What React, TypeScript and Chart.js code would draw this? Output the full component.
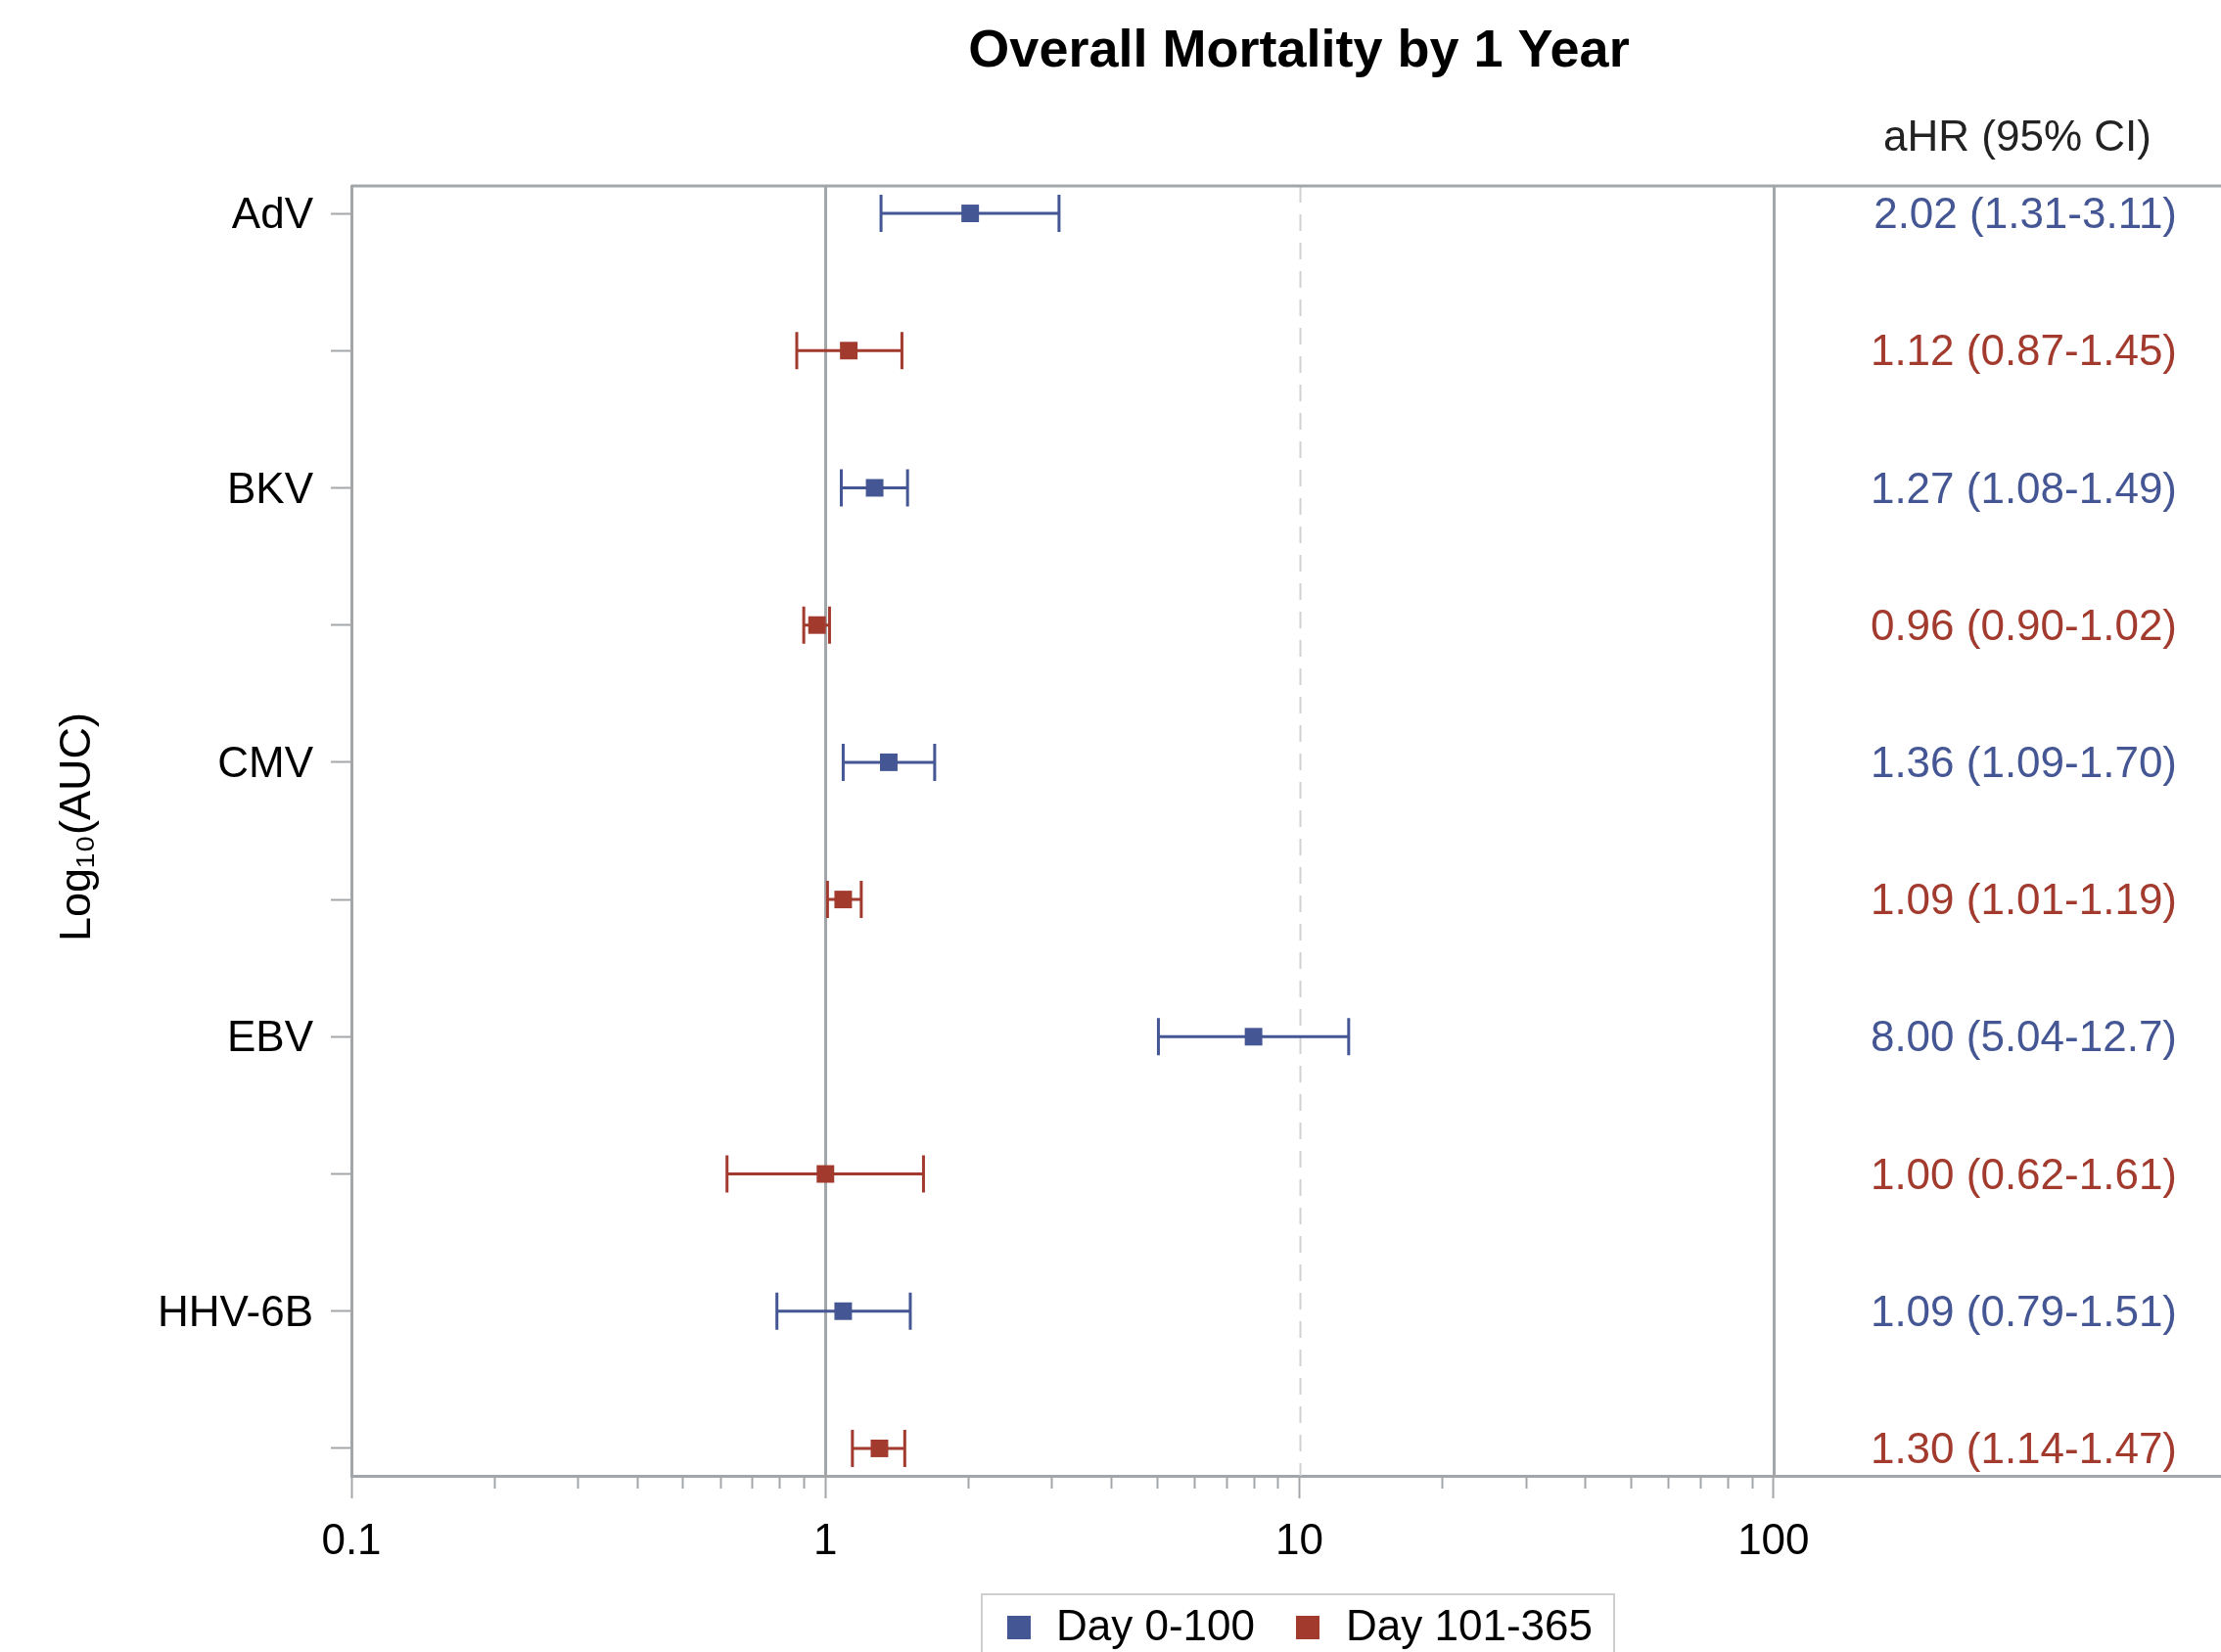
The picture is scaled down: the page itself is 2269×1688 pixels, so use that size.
import React, { useEffect, useRef } from "react";
import { Chart, registerables } from "chart.js";

Chart.register(...registerables);

// ---------------- data ----------------
const viruses = ["AdV", "BKV", "CMV", "EBV", "HHV-6B"];
const seriesNames = ["Day 0-100", "Day 101-365"];
const earlyHR = [2.02, 1.27, 1.36, 8.0, 1.09];
const earlyLo = [1.31, 1.08, 1.09, 5.04, 0.79];
const earlyHi = [3.11, 1.49, 1.7, 12.7, 1.51];
const lateHR = [1.12, 0.96, 1.09, 1.0, 1.3];
const lateLo = [0.87, 0.9, 1.01, 0.62, 1.14];
const lateHi = [1.45, 1.02, 1.19, 1.61, 1.47];
const xTickLabels = [0.1, 1, 10, 100];
const refLinesSolid = [1, 100];
const refLinesDashed = [10];

// ---------------- styles ----------------
const W = 2269;
const H = 1688;
const FONT = "'Liberation Sans', Arial, sans-serif";
const BLUE = "#445694";
const RED = "#A23A2E";
const AXIS_GRAY = "#a3a6a9";
const DASH_GRAY = "#cfd1d3";

const fmt = (v: number) => (v >= 10 ? v.toFixed(1) : v.toFixed(2));

const series = [
  { name: seriesNames[0], hr: earlyHR, lo: earlyLo, hi: earlyHi, color: BLUE, offset: 0 },
  { name: seriesNames[1], hr: lateHR, lo: lateLo, hi: lateHi, color: RED, offset: 1 },
];

const isMajor = (v: number) => {
  const l = Math.log10(v);
  return Math.abs(l - Math.round(l)) < 1e-9;
};

function buildLogTicks() {
  const t: number[] = [];
  const first = Math.log10(xTickLabels[0]);
  const last = Math.log10(xTickLabels[xTickLabels.length - 1]);
  for (let e = first; e < last; e++) {
    const d = Math.pow(10, e);
    for (let k = 1; k <= 9; k++) t.push(parseFloat((k * d).toPrecision(6)));
  }
  t.push(xTickLabels[xTickLabels.length - 1]);
  return t;
}

const forestPlugin = {
  id: "forest",
  beforeDatasetsDraw(chart: any) {
    const { ctx, chartArea, scales } = chart;
    const x = scales.x;
    const y = scales.y;
    ctx.save();
    // reference lines
    refLinesSolid.forEach((v) => {
      const px = Math.round(x.getPixelForValue(v)) + 0.5;
      ctx.strokeStyle = AXIS_GRAY;
      ctx.lineWidth = 3;
      ctx.setLineDash([]);
      ctx.beginPath();
      ctx.moveTo(px, chartArea.top);
      ctx.lineTo(px, chartArea.bottom);
      ctx.stroke();
    });
    refLinesDashed.forEach((v) => {
      const px = Math.round(x.getPixelForValue(v)) + 0.5;
      ctx.strokeStyle = DASH_GRAY;
      ctx.lineWidth = 2;
      ctx.setLineDash([17, 12]);
      ctx.beginPath();
      ctx.moveTo(px, chartArea.top);
      ctx.lineTo(px, chartArea.bottom);
      ctx.stroke();
    });
    ctx.setLineDash([]);
    // top frame line
    ctx.strokeStyle = AXIS_GRAY;
    ctx.lineWidth = 3;
    ctx.beginPath();
    ctx.moveTo(chartArea.left, chartArea.top);
    ctx.lineTo(chartArea.right, chartArea.top);
    ctx.stroke();
    // minor x ticks
    ctx.lineWidth = 2;
    x.ticks.forEach((t: any) => {
      if (isMajor(t.value)) return;
      const px = Math.round(x.getPixelForValue(t.value)) + 0.5;
      ctx.beginPath();
      ctx.moveTo(px, chartArea.bottom);
      ctx.lineTo(px, chartArea.bottom + 13);
      ctx.stroke();
    });
    // error bars
    series.forEach((s) => {
      ctx.strokeStyle = s.color;
      ctx.lineWidth = 3;
      s.hr.forEach((_, i) => {
        const py = y.getPixelForValue(2 * i + s.offset);
        const x1 = x.getPixelForValue(s.lo[i]);
        const x2 = x.getPixelForValue(s.hi[i]);
        ctx.beginPath();
        ctx.moveTo(x1, py);
        ctx.lineTo(x2, py);
        ctx.moveTo(x1, py - 19);
        ctx.lineTo(x1, py + 19);
        ctx.moveTo(x2, py - 19);
        ctx.lineTo(x2, py + 19);
        ctx.stroke();
      });
    });
    ctx.restore();
  },
  afterDraw(chart: any) {
    const { ctx, chartArea, scales } = chart;
    const y = scales.y;
    ctx.save();
    // title
    ctx.fillStyle = "#000";
    ctx.font = `bold 54px ${FONT}`;
    ctx.textAlign = "center";
    ctx.textBaseline = "middle";
    ctx.fillText("Overall Mortality by 1 Year", 1327, 53);
    // header
    ctx.font = `44px ${FONT}`;
    ctx.fillStyle = "#222";
    ctx.fillText("aHR (95% CI)", 2061, 142);
    // values
    ctx.textAlign = "right";
    series.forEach((s) => {
      ctx.fillStyle = s.color;
      s.hr.forEach((v, i) => {
        const py = y.getPixelForValue(2 * i + s.offset);
        ctx.fillText(`${fmt(v)} (${fmt(s.lo[i])}-${fmt(s.hi[i])})`, 2224, py + 3);
      });
    });
    // y-axis title
    ctx.save();
    ctx.translate(80, (chartArea.top + chartArea.bottom) / 2 - 4);
    ctx.rotate(-Math.PI / 2);
    ctx.textAlign = "center";
    ctx.fillStyle = "#000";
    ctx.font = `45px ${FONT}`;
    ctx.fillText("Log\u2081\u2080(AUC)", 0, 0);
    ctx.restore();
    // legend
    const lx = 1003;
    const ly = 1629;
    ctx.strokeStyle = "#cfcfcf";
    ctx.lineWidth = 2;
    ctx.strokeRect(lx, ly, 646, 90);
    const cy = 1663;
    ctx.font = `44px ${FONT}`;
    ctx.textAlign = "left";
    ctx.textBaseline = "middle";
    const items = [
      { sx: 1029, tx: 1079 },
      { sx: 1324, tx: 1375 },
    ];
    series.forEach((s, k) => {
      ctx.fillStyle = s.color;
      ctx.fillRect(items[k].sx, cy - 12, 24, 24);
      ctx.fillStyle = "#000";
      ctx.fillText(s.name, items[k].tx, cy + 1);
    });
    ctx.restore();
  },
};

export default function App() {
  const ref = useRef<HTMLCanvasElement | null>(null);

  useEffect(() => {
    if (!ref.current) return;
    const rows = Array.from({ length: viruses.length * 2 }, (_, i) => i);
    const chart = new Chart(ref.current, {
      type: "scatter",
      data: {
        datasets: series.map((s) => ({
          label: s.name,
          data: s.hr.map((v, i) => ({ x: v, y: 2 * i + s.offset })),
          backgroundColor: s.color,
          borderColor: s.color,
          borderWidth: 0,
          pointStyle: "rect",
          pointRadius: 12.7,
          pointHoverRadius: 12.7,
        })),
      },
      options: {
        animation: false,
        responsive: false,
        devicePixelRatio: 1,
        layout: { autoPadding: false, padding: { top: 190, left: 0, right: 0, bottom: 0 } },
        plugins: {
          legend: { display: false },
          title: { display: false },
          tooltip: { enabled: false },
        },
        scales: {
          x: {
            type: "logarithmic",
            position: "bottom",
            min: 0.1,
            max: 879,
            afterFit: (s: any) => {
              s.height = 180;
              s.paddingLeft = 0;
              s.paddingRight = 0;
            },
            afterBuildTicks: (s: any) => {
              s.ticks = buildLogTicks().map((v) => ({ value: v, major: isMajor(v) }));
            },
            ticks: {
              autoSkip: false,
              maxRotation: 0,
              minRotation: 0,
              padding: 18,
              color: "#000",
              font: { family: FONT, size: 44 },
              callback: (v: any) => (isMajor(Number(v)) ? String(Number(v)) : ""),
            },
            grid: {
              drawOnChartArea: false,
              drawTicks: true,
              tickLength: 23,
              tickWidth: 2,
              tickColor: (c: any) =>
                c.tick && isMajor(c.tick.value) ? AXIS_GRAY : "rgba(0,0,0,0)",
            },
            border: { display: true, color: AXIS_GRAY, width: 3 },
          },
          y: {
            type: "linear",
            min: -0.2,
            max: 9.2,
            reverse: true,
            afterFit: (s: any) => {
              s.width = 359;
              s.paddingTop = 0;
              s.paddingBottom = 0;
            },
            afterBuildTicks: (s: any) => {
              s.ticks = rows.map((v) => ({ value: v }));
            },
            ticks: {
              autoSkip: false,
              padding: 18,
              labelOffset: 3,
              color: "#000",
              font: { family: FONT, size: 44 },
              callback: (v: any) => {
                const n = Number(v);
                return n % 2 === 0 ? viruses[n / 2] : "";
              },
            },
            grid: {
              drawOnChartArea: false,
              drawTicks: true,
              tickLength: 21,
              tickWidth: 2,
              tickColor: AXIS_GRAY,
            },
            border: { display: true, color: AXIS_GRAY, width: 3 },
          },
        },
      },
      plugins: [forestPlugin],
    } as any);
    return () => chart.destroy();
  }, []);

  return (
    <div style={{ position: "fixed", left: 0, top: 0, width: W, height: H, background: "#fff" }}>
      <canvas ref={ref} width={W} height={H} style={{ width: W, height: H, display: "block" }} />
    </div>
  );
}
